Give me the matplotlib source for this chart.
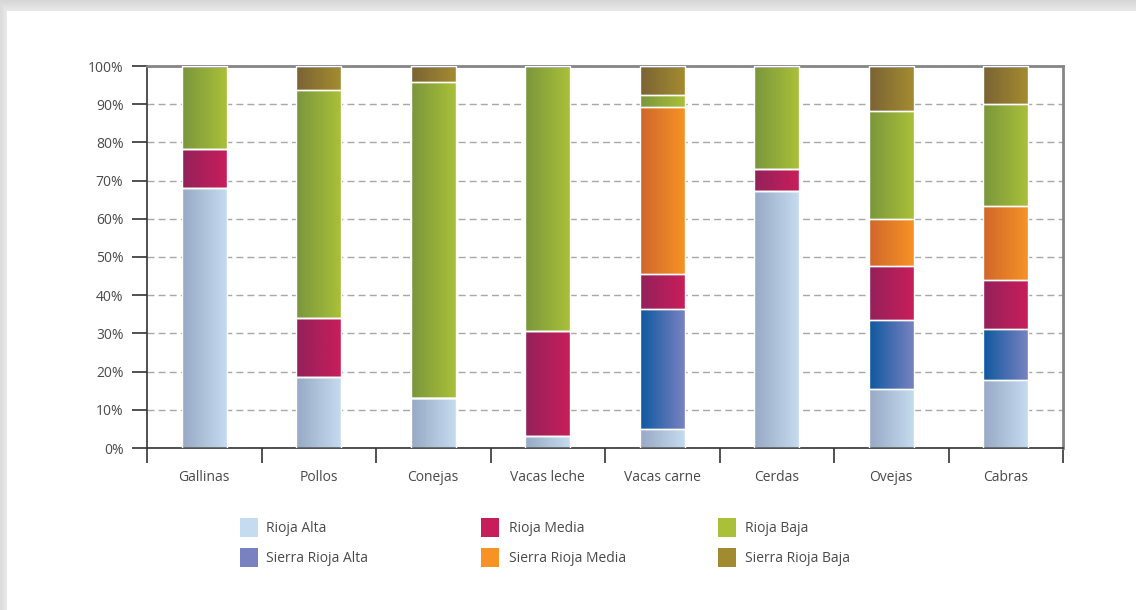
"""Stacked percentage bars of livestock by La Rioja comarca."""

import numpy as np
import matplotlib

matplotlib.use("Agg")
import matplotlib.pyplot as plt
from matplotlib.colors import LinearSegmentedColormap
from matplotlib.patches import Rectangle

plt.rcParams.update({
    "font.family": ["Open Sans", "DejaVu Sans"],
    "font.size": 10,
    "text.color": "#4A4A4A",
    "xtick.color": "#333333",
    "ytick.color": "#333333",
    "xtick.labelcolor": "#4A4A4A",
    "ytick.labelcolor": "#4A4A4A",
})

categories = ["Gallinas", "Pollos", "Conejas", "Vacas leche", "Vacas carne", "Cerdas", "Ovejas", "Cabras"]
series = ["Rioja Alta", "Sierra Rioja Alta", "Rioja Media", "Sierra Rioja Media", "Rioja Baja", "Sierra Rioja Baja"]

rioja_alta = [68.0, 18.6, 13.0, 3.1, 5.1, 67.4, 15.4, 17.8]
sierra_rioja_alta = [0, 0, 0, 0, 31.4, 0, 18.1, 13.3]
rioja_media = [10.3, 15.4, 0, 27.5, 9.0, 5.6, 14.1, 12.8]
sierra_rioja_media = [0, 0, 0, 0, 43.8, 0, 12.4, 19.5]
rioja_baja = [21.7, 59.7, 82.8, 69.4, 3.1, 27.0, 28.2, 26.6]
sierra_rioja_baja = [0, 6.3, 4.2, 0, 7.6, 0, 11.8, 10.0]

values = [rioja_alta, sierra_rioja_alta, rioja_media, sierra_rioja_media, rioja_baja, sierra_rioja_baja]

# (left, right) gradient colours, right one is the legend swatch
grads = [
    ("#97A9C4", "#C5DBF0"),
    ("#0F58A0", "#7882C0"),
    ("#93215A", "#C81E5A"),
    ("#D0662C", "#F69324"),
    ("#7A963C", "#A9C038"),
    ("#7A6334", "#A48B30"),
]
legend_cols = ["#C5DBF0", "#7882C0", "#C71D5A", "#F69324", "#A9C038", "#A18A2F"]

W, H = 1136, 610
fig = plt.figure(figsize=(W / 100, H / 100), dpi=100)

# page frame: grey shadow on top and left
bg = fig.add_axes([0, 0, 1, 1], zorder=-10)
img = np.ones((H, W, 3))
yy, xx = np.mgrid[0:H, 0:W]
shade = np.where(yy < 11, 0.84 + 0.08 * yy / 11, 1.0)
shade = np.minimum(shade, np.where(xx < 7, 0.86 + 0.06 * xx / 7, 1.0))
img *= shade[..., None]
bg.imshow(img, extent=[0, 1, 0, 1], aspect="auto")
bg.axis("off")

ax = fig.add_axes([147 / W, 1 - 448 / H, (1063 - 147) / W, (448 - 66) / H])
x = np.arange(len(categories))
bottom = np.zeros(len(categories))
grad = np.linspace(0, 1, 64).reshape(1, -1)
for name, vals, (c0, c1) in zip(series, values, grads):
    vals = np.array(vals, dtype=float)
    bars = ax.bar(x, vals, 0.39, bottom=bottom, facecolor="none", edgecolor="white", linewidth=1.0, zorder=3)
    cmap = LinearSegmentedColormap.from_list(name, [c0, c1])
    for r, v in zip(bars, vals):
        if v <= 0:
            continue
        x0, y0, w, h = r.get_x(), r.get_y(), r.get_width(), r.get_height()
        ax.imshow(grad, cmap=cmap, extent=[x0, x0 + w, y0, y0 + h], aspect="auto", zorder=2, interpolation="bilinear")
    bottom += vals

ax.set_xlim(-0.5, len(categories) - 0.5)
ax.set_ylim(0, 100)
ax.set_yticks(np.arange(0, 101, 10))
ax.set_yticklabels([f"{v}%" for v in range(0, 101, 10)])
ax.tick_params(axis="y", length=11, width=1.2, pad=6, direction="out")
ax.set_xticks(x)
ax.set_xticklabels(categories)
ax.tick_params(axis="x", which="major", length=0, pad=16)
ax.set_xticks(np.arange(-0.5, len(categories)), minor=True)
ax.tick_params(axis="x", which="minor", length=11, width=1.2, direction="out")

ax.yaxis.grid(True, linestyle=(0, (5, 3)), color="#A8A8A8", linewidth=1.0)
ax.set_axisbelow(True)
for s in ["left", "bottom"]:
    ax.spines[s].set_color("#333333")
    ax.spines[s].set_linewidth(1.2)
for s in ["top", "right"]:
    ax.spines[s].set_color("#858585")
    ax.spines[s].set_linewidth(2.0)

# legend laid out in three columns
sw_x = [240, 481, 718]
txt_x = [266, 509, 745]
row_y = [528, 558]
for i, (name, col) in enumerate(zip(series, legend_cols)):
    c, r = i // 2, i % 2
    fig.add_artist(Rectangle((sw_x[c] / W, 1 - (row_y[r] + 9) / H), 18 / W, 19 / H,
                             transform=fig.transFigure, facecolor=col, edgecolor="none"))
    fig.text(txt_x[c] / W, 1 - row_y[r] / H, name, va="center", ha="left", fontsize=10)

fig.savefig("out.png", dpi=100)
